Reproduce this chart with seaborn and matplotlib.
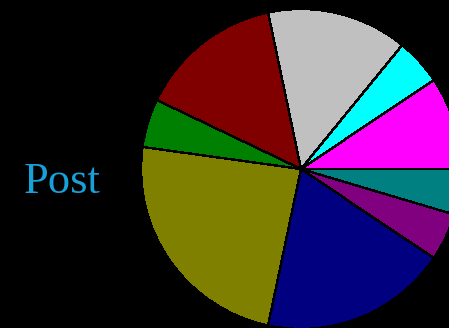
import matplotlib
matplotlib.use('Agg')
import matplotlib.pyplot as plt
import seaborn as sns

# slice shares (percent), counterclockwise starting at 3 o'clock
parties = ['magenta', 'cyan', 'gray', 'maroon', 'green', 'olive', 'navy', 'purple', 'teal']
shares = [9.4, 4.7, 14.2, 14.6, 4.9, 23.9, 18.9, 4.8, 4.6]
colors = ['#ff00ff', '#00ffff', '#c0c0c0', '#800000', '#008000',
          '#808000', '#000080', '#800080', '#008080']
label = 'Post'

sns.set_theme(style='white')
plt.rcParams['font.family'] = ['Liberation Serif', 'DejaVu Serif']

fig = plt.figure(figsize=(4.49, 3.28), dpi=100, facecolor='black')
ax = fig.add_axes([0, 0, 1, 1])
ax.set_facecolor('black')

wedges, _ = ax.pie(shares, colors=colors, startangle=0, counterclock=True,
                   radius=1.0, wedgeprops=dict(edgecolor='black', linewidth=1.0))
for w in wedges:
    w.set_antialiased(False)

# centre of pie at pixel (301, 169), radius 160 px
ax.set_aspect('auto')
ax.set_xlim(-301 / 160, (449 - 301) / 160)
ax.set_ylim((169 - 328) / 160, 169 / 160)
ax.axis('off')

ax.text((62 - 301) / 160, (169 - 193) / 160, label, color='#18a0d8',
        fontsize=32, ha='center', va='baseline')

fig.savefig('out.png', facecolor='black')
